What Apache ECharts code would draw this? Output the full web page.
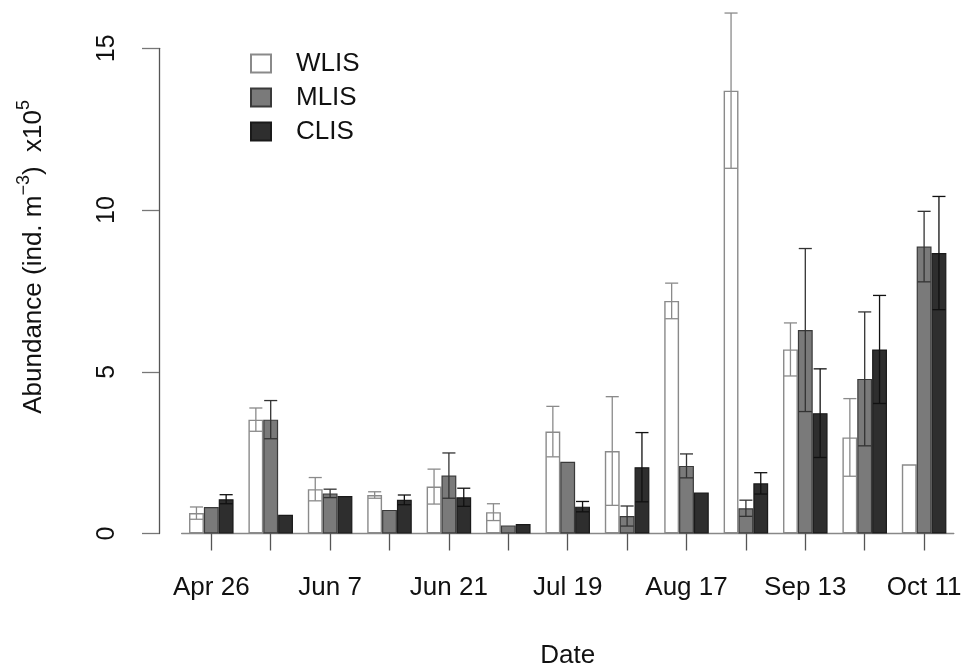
<!DOCTYPE html>
<html>
<head>
<meta charset="utf-8">
<script src="https://cdn.jsdelivr.net/npm/echarts@6/dist/echarts.min.js"></script>
<style>html,body{margin:0;padding:0;background:#fff}#c{width:963px;height:671px}</style>
</head>
<body>
<div id="c"></div>
<script>
// ---- data ----
var categories = ['Apr 26','May 10','Jun 7','Jun 14','Jun 21','Jul 5','Jul 19','Aug 2','Aug 17','Aug 31','Sep 13','Sep 27','Oct 11'];
var wlis    = [0.63, 3.52, 1.37, 1.19, 1.45, 0.66, 3.15, 2.55, 7.19, 13.69, 5.69, 2.97, 2.14];
var wlisErr = [0.19, 0.36, 0.36, 0.10, 0.54, 0.26, 0.78, 1.68, 0.55, 2.40, 0.82, 1.20, 0];
var mlis    = [0.82, 3.52, 1.24, 0.73, 1.79, 0.25, 2.22, 0.54, 2.09, 0.78, 6.29, 4.78, 8.87];
var mlisErr = [0, 0.59, 0.13, 0, 0.70, 0, 0, 0.31, 0.37, 0.25, 2.52, 2.07, 1.09];
var clis    = [1.06, 0.58, 1.16, 1.04, 1.12, 0.29, 0.83, 2.05, 1.27, 1.55, 3.72, 5.69, 8.67];
var clisErr = [0.14, 0, 0, 0.15, 0.28, 0, 0.16, 1.07, 0, 0.33, 1.37, 1.67, 1.75];
var yTicks = [0, 5, 10, 15];

var FONT = "'Liberation Sans', Arial, Helvetica, sans-serif";

function errSeries(name, vals, errs, idx, color) {
  return {
    type: 'custom',
    name: name,
    clip: false,
    z: 5,
    encode: { x: 0, y: 1 },
    data: vals.map(function (v, i) { return [i, v, errs[i]]; }),
    renderItem: function (params, api) {
      var i = api.value(0), v = api.value(1), e = api.value(2);
      if (!(e > 0)) return null;
      var band = api.size([1, 0])[0];
      var bw = band * 0.75 / 3;
      var off = (idx - 1) * bw;
      var t = api.coord([i, v + e]);
      var b = api.coord([i, v - e]);
      var x = t[0] + off;
      var hw = bw * 0.44;
      var st = { stroke: color, lineWidth: 1.3 };
      return {
        type: 'group',
        children: [
          { type: 'line', shape: { x1: x, y1: t[1], x2: x, y2: b[1] }, style: st },
          { type: 'line', shape: { x1: x - hw, y1: t[1], x2: x + hw, y2: t[1] }, style: st },
          { type: 'line', shape: { x1: x - hw, y1: b[1], x2: x + hw, y2: b[1] }, style: st }
        ]
      };
    }
  };
}

var chart = echarts.init(document.getElementById('c'));
chart.setOption({
  animation: false,
  backgroundColor: '#ffffff',
  textStyle: { fontFamily: FONT },
  grid: { left: 181.6, right: 9.2, top: 48.3, bottom: 137.5, containLabel: false, outerBoundsMode: 'none' },
  legend: {
    data: ['WLIS', 'MLIS', 'CLIS'],
    orient: 'vertical',
    left: 245, top: 45.5,
    itemWidth: 20, itemHeight: 18, itemGap: 8,
    icon: 'rect',
    textStyle: { fontSize: 26, lineHeight: 20, color: '#111', fontFamily: FONT, padding: [0, 0, 0, 20] }
  },
  xAxis: {
    type: 'category',
    data: categories,
    name: 'Date',
    nameLocation: 'middle',
    nameGap: 109,
    nameTextStyle: { fontSize: 26, color: '#111', fontFamily: FONT },
    axisLine: { show: true, lineStyle: { color: '#888', width: 1.3 } },
    axisTick: { show: true, alignWithLabel: true, interval: 0, length: 17, lineStyle: { color: '#555', width: 1.3 } },
    axisLabel: { interval: 1, margin: 41, fontSize: 26, color: '#111', fontFamily: FONT },
    splitLine: { show: false }
  },
  yAxis: {
    type: 'value',
    min: 0, max: 15, interval: 5,
    offset: 22.6,
    name: '{m|Abundance (ind. m}{s|\u22123}{m|)  x10}{s|5}',
    nameLocation: 'middle',
    nameGap: 112,
    nameTextStyle: {
      padding: [0, 0, 0, 68],
      rich: {
        m: { fontSize: 26, color: '#111', fontFamily: FONT, verticalAlign: 'bottom', lineHeight: 32 },
        s: { fontSize: 18, color: '#111', fontFamily: FONT, verticalAlign: 'top', lineHeight: 32 }
      }
    },
    axisLine: { show: true, lineStyle: { color: '#555', width: 1.3 } },
    axisTick: { show: true, length: 17, lineStyle: { color: '#777', width: 1.3 } },
    axisLabel: {
      rotate: 90, margin: 39, fontSize: 25, color: '#111', fontFamily: FONT,
      formatter: function (v) { return yTicks.indexOf(v) >= 0 ? String(v) : ''; }
    },
    splitLine: { show: false }
  },
  series: [
    { type: 'bar', name: 'WLIS', data: wlis, barGap: '0%', barCategoryGap: '25%',
      itemStyle: { color: '#ffffff', borderColor: '#8a8a8a', borderWidth: 1.4 } },
    { type: 'bar', name: 'MLIS', data: mlis, barGap: '0%', barCategoryGap: '25%',
      itemStyle: { color: '#7a7a7a', borderColor: '#3a3a3a', borderWidth: 1.2 } },
    { type: 'bar', name: 'CLIS', data: clis, barGap: '0%', barCategoryGap: '25%',
      itemStyle: { color: '#2e2e2e', borderColor: '#1a1a1a', borderWidth: 1.2 } },
    errSeries('WLIS err', wlis, wlisErr, 0, '#8a8a8a'),
    errSeries('MLIS err', mlis, mlisErr, 1, '#333333'),
    errSeries('CLIS err', clis, clisErr, 2, '#111111')
  ]
});
</script>
</body>
</html>
